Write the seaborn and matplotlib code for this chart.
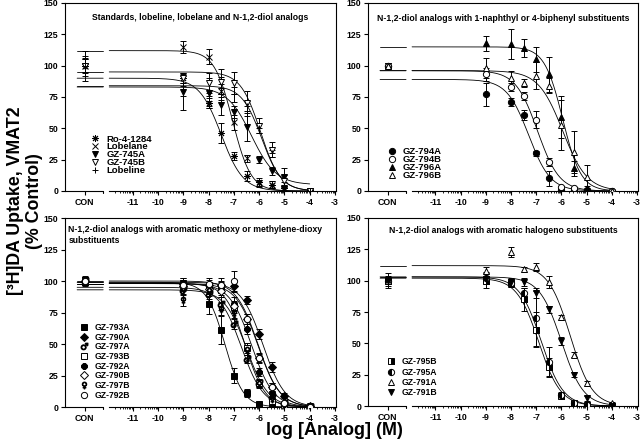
import numpy as np
import pandas as pd
import matplotlib
matplotlib.use("Agg")
import matplotlib.pyplot as plt
import matplotlib.transforms as mtransforms
from matplotlib.lines import Line2D
import seaborn as sns

sns.set_theme(style="ticks")
plt.rcParams['font.family'] = ['Liberation Sans', 'DejaVu Sans']
plt.rcParams['axes.unicode_minus'] = False

# ---------------- data ----------------
CON = -12.9
doses = [CON, -9, -8, -7.5, -7, -6.5, -6, -5.5, -5, -4]
x_tick_pos = [CON, -11, -10, -9, -8, -7, -6, -5, -4, -3]
x_tick_labels = ["CON", "-11", "-10", "-9", "-8", "-7", "-6", "-5", "-4", "-3"]
y_ticks = [0, 25, 50, 75, 100, 125, 150]

# Panel A: standards
names_A = ["Ro-4-1284", "Lobelane", "GZ-745A", "GZ-745B", "Lobeline"]
ro4_mean = [100, 90, 70, 46, 28, 12, 7, 5, 2, 0]
ro4_err = [5, 4, 4, 8, 3, 4, 3, 3, 2, 1]
lobelane_mean = [100, 115, 107, 80, 55, 26, 6, 5, 2, 0]
lobelane_err = [6, 5, 6, 5, 6, 3, 3, 3, 2, 1]
gz745a_mean = [100, 79, 78, 69, 63, 51, 25, 16, 11, 0]
gz745a_err = [12, 14, 12, 8, 5, 11, 3, 3, 7, 1]
gz745b_mean = [100, 90, 86, 87, 86, 70, 52, 33, 8, 0]
gz745b_err = [5, 4, 8, 10, 9, 10, 6, 6, 5, 1]
lobeline_mean = [100, 84, 72, 82, 77, 68, 50, 30, 5, 0]
lobeline_err = [8, 8, 4, 9, 6, 4, 4, 3, 2, 1]
top_A = [90, 112, 83, 95, 84]
bottom_A = [0, 0, 5, 0, 0]
logic50_A = [-7.5, -7.05, -6.3, -5.95, -5.9]
hill_A = [1.0, 1.2, 0.9, 1.1, 1.1]

# Panel B: 1-naphthyl / 4-biphenyl
names_B = ["GZ-794A", "GZ-794B", "GZ-796A", "GZ-796B"]
gz794a_mean = [100, 77, 71, 61, 30, 10, 1, 1, 1, 0]
gz794a_err = [2, 9, 3, 4, 2, 6, 1, 1, 1, 1]
gz794b_mean = [100, 93, 83, 76, 57, 23, 3, 2, 0, 0]
gz794b_err = [2, 5, 3, 3, 7, 3, 1, 1, 1, 1]
gz796a_mean = [100, 118, 117, 114, 105, 93, 59, 18, 2, 0]
gz796a_err = [2, 6, 12, 7, 10, 14, 17, 6, 2, 1]
gz796b_mean = [100, 98, 90, 86, 92, 84, 53, 31, 11, 0]
gz796b_err = [2, 8, 6, 3, 11, 6, 20, 17, 10, 1]
top_B = [89, 96, 115, 96]
bottom_B = [0, 0, 0, 0]
logic50_B = [-7.3, -6.95, -5.95, -5.95]
hill_B = [1.0, 1.0, 1.2, 0.9]

# Panel C: methoxy / methylene-dioxy
names_C = ["GZ-793A", "GZ-790A", "GZ-797A", "GZ-793B",
           "GZ-792A", "GZ-790B", "GZ-797B", "GZ-792B"]
gz793a_mean = [100, 98, 82, 61, 25, 11, 2, 1, 1, 0]
gz793a_err = [4, 4, 8, 11, 6, 3, 1, 1, 1, 1]
gz790a_mean = [100, 98, 97, 97, 96, 85, 58, 32, 9, 1]
gz790a_err = [3, 4, 4, 3, 5, 3, 4, 4, 2, 2]
gz797a_mean = [100, 93, 90, 82, 66, 38, 19, 8, 3, 0]
gz797a_err = [3, 4, 4, 5, 4, 3, 3, 2, 1, 1]
gz793b_mean = [100, 97, 95, 93, 79, 47, 19, 5, 1, 0]
gz793b_err = [3, 4, 4, 4, 4, 4, 3, 2, 1, 1]
gz792a_mean = [100, 98, 96, 95, 82, 62, 28, 11, 2, 1]
gz792a_err = [3, 3, 3, 4, 5, 4, 3, 3, 1, 1]
gz790b_mean = [100, 96, 94, 92, 80, 70, 39, 16, 3, 0]
gz790b_err = [3, 4, 4, 5, 4, 4, 3, 3, 1, 1]
gz797b_mean = [100, 85, 92, 78, 75, 45, 18, 6, 1, 0]
gz797b_err = [3, 5, 4, 5, 4, 4, 3, 2, 1, 1]
gz792b_mean = [100, 97, 98, 97, 100, 70, 39, 16, 3, 0]
gz792b_err = [3, 4, 4, 5, 8, 4, 4, 3, 2, 3]
top_C = [99, 99, 95, 98, 98, 98, 93, 100]
bottom_C = [0, 0, 0, 0, 0, 0, 0, 0]
logic50_C = [-7.35, -5.85, -6.7, -6.55, -6.3, -6.05, -6.5, -6.05]
hill_C = [1.2, 1.0, 1.0, 1.1, 1.0, 1.0, 1.0, 1.0]

# Panel D: halogeno
names_D = ["GZ-795B", "GZ-795A", "GZ-791A", "GZ-791B"]
gz795b_mean = [100, 100, 98, 85, 61, 31, 8, 2, 1, 0]
gz795b_err = [6, 6, 3, 9, 14, 7, 2, 1, 1, 1]
gz795a_mean = [100, 102, 98, 90, 70, 35, 9, 2, 1, 0]
gz795a_err = [4, 5, 3, 4, 22, 12, 2, 1, 1, 1]
gz791a_mean = [100, 108, 123, 109, 111, 99, 71, 41, 18, 2]
gz791a_err = [3, 3, 4, 2, 3, 5, 2, 2, 2, 1]
gz791b_mean = [100, 101, 99, 99, 90, 77, 52, 25, 6, 0]
gz791b_err = [3, 3, 3, 3, 4, 3, 3, 2, 2, 1]
top_D = [102, 103, 112, 103]
bottom_D = [0, 0, 0, 0]
logic50_D = [-6.9, -6.8, -5.65, -6.0]
hill_D = [1.0, 1.0, 1.0, 1.0]

title_A = "Standards, lobeline, lobelane and N-1,2-diol analogs"
title_B = "N-1,2-diol analogs with 1-naphthyl or 4-biphenyl substituents"
title_C = "N-1,2-diol analogs with aromatic methoxy or methylene-dioxy\nsubstituents"
title_D = "N-1,2-diol analogs with aromatic halogeno substituents"

# ---------------- styles ----------------
styles_A = [dict(marker=(8, 2, 0), ms=5, mfc='black'),
            dict(marker='x', ms=4, mfc='black'),
            dict(marker='v', ms=5, mfc='black'),
            dict(marker='v', ms=5, mfc='white'),
            dict(marker='+', ms=5, mfc='black')]
styles_B = [dict(marker='o', ms=4.5, mfc='black'),
            dict(marker='o', ms=4.5, mfc='white'),
            dict(marker='^', ms=5, mfc='black'),
            dict(marker='^', ms=5, mfc='white')]
styles_C = [dict(marker='s', ms=4.5, mfc='black'),
            dict(marker='D', ms=4, mfc='black'),
            dict(marker='$\u2642$', ms=5, mfc='black'),
            dict(marker='s', ms=4.5, mfc='white'),
            dict(marker='8', ms=4.5, mfc='black'),
            dict(marker='D', ms=4, mfc='white'),
            dict(marker='$\u2640$', ms=5, mfc='black'),
            dict(marker='o', ms=4.5, mfc='white')]
styles_D = [dict(marker='s', ms=4.5, mfc='black', fillstyle='right', mfcalt='white'),
            dict(marker='o', ms=4.5, mfc='black', fillstyle='left', mfcalt='white'),
            dict(marker='^', ms=5, mfc='white'),
            dict(marker='v', ms=5, mfc='black')]

panels = [
    dict(names=names_A, means=[ro4_mean, lobelane_mean, gz745a_mean, gz745b_mean, lobeline_mean],
         errs=[ro4_err, lobelane_err, gz745a_err, gz745b_err, lobeline_err],
         top=top_A, bottom=bottom_A, ic=logic50_A, hill=hill_A, styles=styles_A,
         rect=[65, 3, 336, 191], title=title_A, tpos=(0.498, 0.922, 'center'),
         leg=dict(anchor=(0.095, 0.3), fs=6.8, spacing=-0.12)),
    dict(names=names_B, means=[gz794a_mean, gz794b_mean, gz796a_mean, gz796b_mean],
         errs=[gz794a_err, gz794b_err, gz796a_err, gz796b_err],
         top=top_B, bottom=bottom_B, ic=logic50_B, hill=hill_B, styles=styles_B,
         rect=[368, 3, 638, 191], title=title_B, tpos=(0.5, 0.917, 'center'),
         leg=dict(anchor=(0.07, 0.235), fs=6.8, spacing=-0.1)),
    dict(names=names_C, means=[gz793a_mean, gz790a_mean, gz797a_mean, gz793b_mean,
                               gz792a_mean, gz790b_mean, gz797b_mean, gz792b_mean],
         errs=[gz793a_err, gz790a_err, gz797a_err, gz793b_err,
               gz792a_err, gz790b_err, gz797b_err, gz792b_err],
         top=top_C, bottom=bottom_C, ic=logic50_C, hill=hill_C, styles=styles_C,
         rect=[65, 218, 336, 407], title=title_C, tpos=(0.012, 0.91, 'left'),
         leg=dict(anchor=(0.055, 0.445), fs=6.2, spacing=0.08)),
    dict(names=names_D, means=[gz795b_mean, gz795a_mean, gz791a_mean, gz791b_mean],
         errs=[gz795b_err, gz795a_err, gz791a_err, gz791b_err],
         top=top_D, bottom=bottom_D, ic=logic50_D, hill=hill_D, styles=styles_D,
         rect=[368, 218, 638, 406], title=title_D, tpos=(0.5, 0.936, 'center'),
         leg=dict(anchor=(0.07, 0.258), fs=6.2, spacing=0.12)),
]

W, H = 640, 448
XMIN, XMAX = -13.68, -2.96
BREAK_L, BREAK_R = -12.17, -11.93
CURVE_START, CURVE_END = -13.2, -4.0

fig = plt.figure(figsize=(6.4, 4.48), dpi=100)

for p in panels:
    l, t, r, b = p['rect']
    ax = fig.add_axes([l / W, 1 - b / H, (r - l) / W, (b - t) / H])
    ax.set_facecolor('white')

    # fitted sigmoid curves (two segments around the axis break)
    rows = []
    for i, name in enumerate(p['names']):
        for seg, xs in enumerate([np.linspace(CURVE_START, BREAK_L, 5),
                                  np.linspace(BREAK_R, CURVE_END, 300)]):
            ys = p['bottom'][i] + (p['top'][i] - p['bottom'][i]) / (
                1 + 10 ** ((xs - p['ic'][i]) * p['hill'][i]))
            for xv, yv in zip(xs, ys):
                rows.append(dict(x=xv, y=yv, series=name, unit=f"{name}_{seg}"))
    curves = pd.DataFrame(rows)
    sns.lineplot(data=curves, x='x', y='y', hue='series', units='unit',
                 estimator=None, palette=['black'] * len(p['names']),
                 linewidth=0.6, legend=False, sort=False, ax=ax, zorder=2)

    handles = []
    for i, name in enumerate(p['names']):
        st = dict(p['styles'][i])
        ax.errorbar(doses, p['means'][i], yerr=p['errs'][i], fmt='none',
                    ecolor='black', elinewidth=0.7, capsize=2.3, capthick=0.7,
                    zorder=3)
        ax.plot(doses, p['means'][i], linestyle='none', color='black',
                mec='black', mew=0.7, zorder=4, **st)
        handles.append(Line2D([], [], linestyle='none', color='black',
                              mec='black', mew=0.7, **st))

    ax.set_xlim(XMIN, XMAX)
    ax.set_ylim(0, 150)
    ax.set_xlabel('')
    ax.set_ylabel('')
    ax.set_xticks(x_tick_pos)
    ax.set_xticklabels(x_tick_labels)
    minor = [d + np.log10(k) for d in range(-12, -3) for k in range(2, 10)]
    minor = [m for m in minor if m > BREAK_R]
    ax.set_xticks(minor, minor=True)
    ax.set_yticks(y_ticks)
    ax.set_yticklabels([str(v) for v in y_ticks])
    ax.tick_params(axis='both', which='major', direction='out', length=3,
                   width=0.8, color='black', labelsize=6.3, pad=2,
                   labelcolor='black')
    ax.tick_params(axis='x', which='minor', direction='out', length=1.6,
                   width=0.6, color='black')
    for lab in ax.get_xticklabels() + ax.get_yticklabels():
        lab.set_fontweight('bold')
    for s in ['top', 'right', 'left', 'bottom']:
        ax.spines[s].set_visible(True)
        ax.spines[s].set_color('black')
        ax.spines[s].set_linewidth(0.8)
    ax.spines['bottom'].set_bounds(BREAK_R, XMAX)
    trans = mtransforms.blended_transform_factory(ax.transData, ax.transAxes)
    ax.add_line(Line2D([XMIN, BREAK_L], [0, 0], transform=trans, color='black',
                       linewidth=0.8, clip_on=False))
    ax.add_line(Line2D([BREAK_L, BREAK_L], [0, -0.012], transform=trans,
                       color='black', linewidth=0.8, clip_on=False))

    tx, ty, ha = p['tpos']
    ax.text(tx, ty, p['title'], transform=ax.transAxes, ha=ha, va='center',
            fontsize=6.2, fontweight='bold', color='black', linespacing=1.25)

    lg = p['leg']
    leg = ax.legend(handles, p['names'], loc='upper left',
                    bbox_to_anchor=lg['anchor'], frameon=False,
                    handlelength=1.0, handletextpad=0.7,
                    labelspacing=lg['spacing'], borderpad=0, borderaxespad=0,
                    prop=dict(weight='bold', size=lg['fs']))
    for txt in leg.get_texts():
        txt.set_color('black')

fig.text(25 / W, 1 - 201 / H, "[\u00b3H]DA Uptake, VMAT2\n(% Control)",
         rotation=90, ha='center', va='center', fontsize=12.8, fontweight='bold',
         multialignment='center', linespacing=1.15, color='black')
fig.text(334 / W, 1 - 430 / H, "log [Analog] (M)", ha='center', va='center',
         fontsize=13, fontweight='bold', color='black')

fig.savefig("out.png", dpi=100, facecolor='white')
